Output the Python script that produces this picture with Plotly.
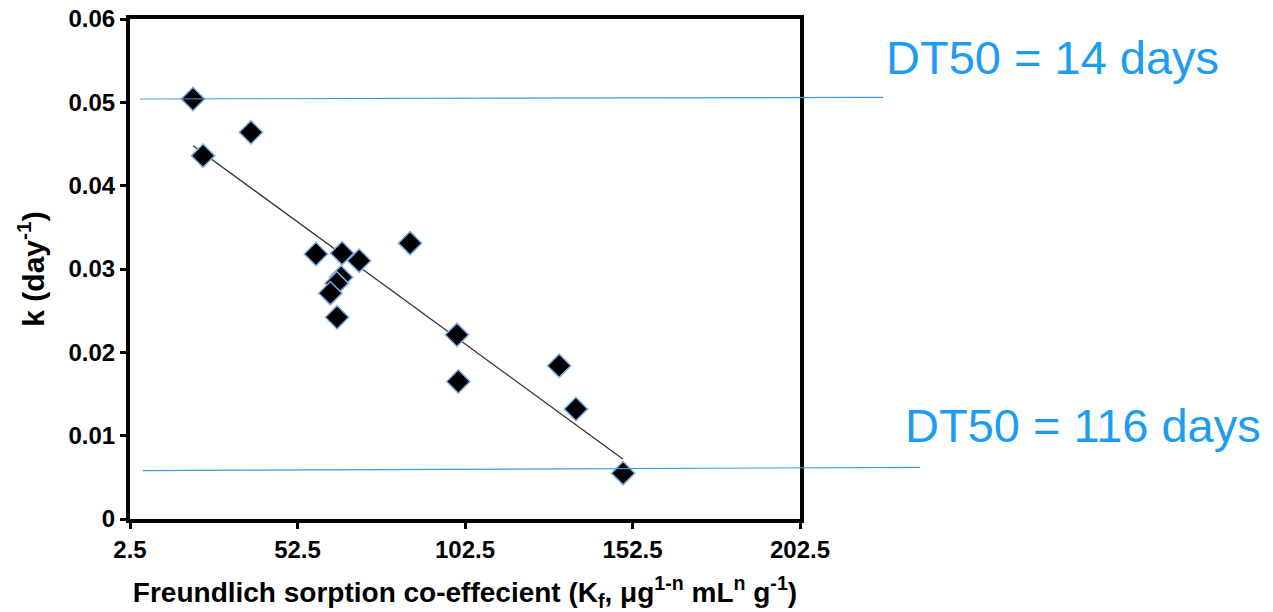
import plotly.graph_objects as go

# Data
kf = [21.3, 24.3, 38.6, 58.0, 65.8, 70.9, 65.5, 64.2, 62.3, 64.3, 86.1, 100.1, 100.5, 130.6, 135.6, 149.7]
k = [0.0504, 0.0436, 0.0464, 0.0318, 0.0319, 0.0310, 0.0290, 0.0283, 0.0271, 0.0242, 0.0331, 0.0221, 0.0165, 0.0184, 0.0132, 0.0055]

fit_x = [21.3, 149.6]
fit_y = [0.0448, 0.0072]

dt50_labels = ["DT50 = 14 days", "DT50 = 116 days"]
dt50_k_left = [0.0504, 0.0058]
dt50_k_right = [0.0506, 0.0062]

x_ticks = [2.5, 52.5, 102.5, 152.5, 202.5]
x_tick_labels = ["2.5", "52.5", "102.5", "152.5", "202.5"]
y_ticks = [0, 0.01, 0.02, 0.03, 0.04, 0.05, 0.06]
y_tick_labels = ["0", "0.01", "0.02", "0.03", "0.04", "0.05", "0.06"]

BLUE_LINE = "#3d9be0"
BLUE_TEXT = "#1e9cf0"
FONT = "Liberation Sans, Arial, sans-serif"

fig = go.Figure()
fig.add_trace(go.Scatter(x=fit_x, y=fit_y, mode="lines",
                         line=dict(color="#333333", width=1.3), showlegend=False))
fig.add_trace(go.Scatter(x=kf, y=k, mode="markers",
                         marker=dict(symbol="diamond", size=18, color="black",
                                     line=dict(color="#7fb2e5", width=1.5)),
                         showlegend=False, cliponaxis=False))

# DT50 reference lines (extend beyond the plot to the right)
line_x = [(0.015, 1.124), (0.019, 1.179)]
for (x0, x1), y0, y1 in zip(line_x, dt50_k_left, dt50_k_right):
    fig.add_shape(type="line", xref="paper", yref="y", x0=x0, x1=x1, y0=y0, y1=y1,
                  line=dict(color=BLUE_LINE, width=1.2), layer="above")

ann_pos = [(1.126, 0.922), (1.153, 0.188)]
for (ax, ay), txt in zip(ann_pos, dt50_labels):
    fig.add_annotation(x=ax, y=ay, xref="paper", yref="paper", text=txt,
                       showarrow=False, xanchor="left", yanchor="middle",
                       font=dict(family=FONT, size=47, color=BLUE_TEXT))

axis_common = dict(showline=True, linewidth=4, linecolor="black", mirror=True,
                   ticks="outside", ticklen=6, tickwidth=3, tickcolor="black",
                   showgrid=False, zeroline=False, automargin=False,
                   ticklabeloverflow="allow")

fig.update_xaxes(range=[2.5, 202.5], tickvals=x_ticks, ticktext=x_tick_labels,
                 tickfont=dict(family=FONT, size=24, color="black", weight="bold"),
                 title=dict(text="Freundlich sorption co-effecient (K<sub>f</sub>, μg<sup>1-n</sup> mL<sup>n</sup> g<sup>-1</sup>)",
                            font=dict(family=FONT, size=28, color="black", weight="bold"),
                            standoff=22),
                 **axis_common)
fig.update_yaxes(range=[0, 0.06], tickvals=y_ticks, ticktext=y_tick_labels,
                 tickfont=dict(family=FONT, size=24, color="black", weight="bold"),
                 title=dict(text="k (day<sup>-1</sup>)",
                            font=dict(family=FONT, size=30, color="black", weight="bold"),
                            standoff=16),
                 **axis_common)

fig.update_layout(width=1273, height=612,
                  margin=dict(l=130, r=473, t=19, b=93),
                  plot_bgcolor="white", paper_bgcolor="white")

fig.write_html("out.html", config={"displayModeBar": False})

# remove the default page margin so the figure fills the window exactly
with open("out.html", "r", encoding="utf-8") as f:
    html = f.read()
html = html.replace("<head>", "<head><style>html,body{margin:0;padding:0;overflow:hidden;}</style>", 1)
with open("out.html", "w", encoding="utf-8") as f:
    f.write(html)
